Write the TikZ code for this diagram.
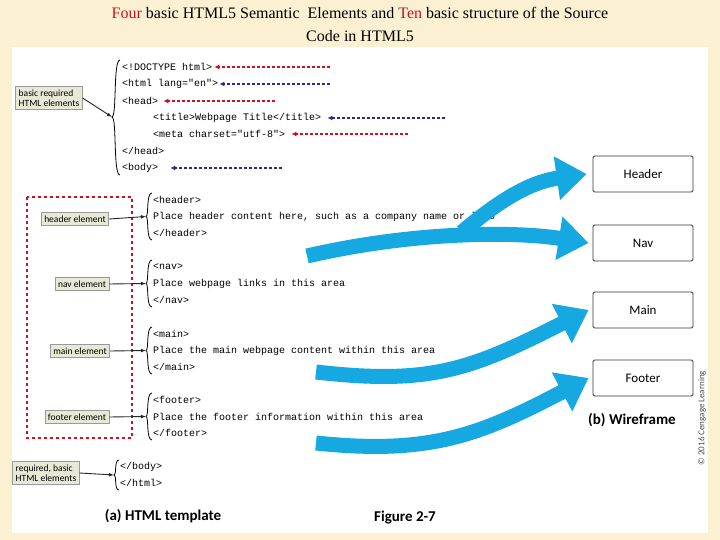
\documentclass[tikz,border=0pt]{standalone}
\usepackage{fontspec}
\setmainfont{Liberation Serif}
\setmonofont{Liberation Mono}
\setsansfont{Carlito}
\usetikzlibrary{arrows.meta}
\definecolor{cream}{HTML}{FBF0D2}
\definecolor{lbl}{HTML}{E8E8D6}
\definecolor{bluea}{HTML}{16A8E0}
\definecolor{darkblue}{HTML}{2B2B8C}
\definecolor{redc}{HTML}{D01020}
\begin{document}
\begin{tikzpicture}[x=1pt,y=-1pt,
 code/.style={font=\ttfamily\fontsize{10}{12}\selectfont,anchor=west,inner sep=0pt},
 lab/.style={draw=gray!80,fill=lbl,font=\sffamily\fontsize{9.5}{10.5}\selectfont,align=left,inner sep=3pt,line width=0.6pt},
 wf/.style={draw=black!80,fill=white,rounded corners=1.5pt,minimum width=100pt,minimum height=36pt,font=\sffamily\fontsize{13}{14}\selectfont,line width=0.8pt},
 dashr/.style={densely dashed,redc,line width=1.2pt,-{Latex[length=5pt,width=5pt]}},
 dashb/.style={densely dashed,darkblue,line width=1.2pt,-{Latex[length=5pt,width=5pt]}},
 pt/.style={-{Latex[length=5pt]},line width=0.9pt,black!85},
 big/.style={bluea,line width=15pt,-{Triangle[length=30pt,width=42pt]}},
 br/.style={line width=0.8pt}]
\useasboundingbox (0,0) rectangle (720,540);
\fill[cream] (0,0) rectangle (720,540);
\fill[white] (12,47) rectangle (708,533);
\node (t1) at (360,13) {\fontsize{16}{18}\selectfont\textcolor{redc}{Four} basic HTML5 Semantic\ \ Elements and \textcolor{redc}{Ten} basic structure of the Source};
\node (t2) at (360,36) {\fontsize{16}{18}\selectfont Code in HTML5};
% head code
\node[code] (c1) at (122,67) {<!DOCTYPE html>};
\node[code] (c2) at (122,84) {<html lang="en">};
\node[code] (c3) at (122,101) {<head>};
\node[code] (c4) at (153,118) {<title>Webpage Title</title>};
\node[code] (c5) at (153,134) {<meta charset="utf-8">};
\node[code] (c6) at (122,151) {</head>};
\node[code] (c7) at (122,168) {<body>};
\coordinate (e1) at (330,67); \coordinate (e2) at (330,84); \coordinate (e3) at (275,101);
\coordinate (e4) at (445,118); \coordinate (e5) at (408,134); \coordinate (e7) at (282,168);
\draw[dashr] (e1) -- ([xshift=2pt]c1.east);
\draw[dashb] (e2) -- ([xshift=1pt]c2.east);
\draw[dashr] (e3) -- ([xshift=5pt]c3.east);
\draw[dashb] (e4) -- ([xshift=6pt]c4.east);
\draw[dashr] (e5) -- ([xshift=6pt]c5.east);
\draw[dashb] (e7) -- ([xshift=12pt]c7.east);
\draw[br] (120,60) .. controls (113,60) and (117,116) .. (112,117) .. controls (117,118) and (113,175) .. (120,175);
\coordinate (b0) at (112,117);
\node[lab] (l0) at (49,98) {basic required\\HTML elements};
\draw[pt] (l0.east) -- (b0);
% red dashed rect
\draw[dashed,redc,line width=1.8pt] (27,197) rectangle (132,438);
% blocks
\foreach \n/\y/\a/\b/\c in {h/200/{<header>}/{Place header content here, such as a company name or logo}/{</header>},
 n/267/{<nav>}/{Place webpage links in this area}/{</nav>},
 m/334/{<main>}/{Place the main webpage content within this area}/{</main>},
 f/400/{<footer>}/{Place the footer information within this area}/{</footer>}}{
 \node[code] (\n1) at (153,\y) {\a};
 \node[code] (\n2) at (153,\y+16.5) {\b};
 \node[code] (\n3) at (153,\y+33) {\c};
 \coordinate (\n b) at (146,\y+16.5);
 \draw[br] (152,\y-7) .. controls (146,\y-7) and (149,\y+16) .. (146,\y+16.5) .. controls (149,\y+17) and (146,\y+40) .. (152,\y+40);
}
\node[lab] (lh) at (75,219) {header element};
\node[lab] (ln) at (82,284) {nav element};
\node[lab] (lm) at (80,351) {main element};
\node[lab] (lf) at (77,417) {footer element};
\draw[pt] (lh.east) -- (hb); \draw[pt] (ln.east) -- (nb);
\draw[pt] (lm.east) -- (mb); \draw[pt] (lf.east) -- (fb);
% closing
\node[code] (z1) at (120,467) {</body>};
\node[code] (z2) at (120,483) {</html>};
\coordinate (zb) at (114,475);
\draw[br] (119,460) .. controls (114,460) and (117,474) .. (114,475) .. controls (117,476) and (114,490) .. (119,490);
\node[lab] (lz) at (46,473) {required, basic\\HTML elements};
\draw[pt] (lz.east) -- (zb);
% wireframe
\node[wf] (W1) at (643,174) {Header};
\node[wf] (W2) at (643,243) {Nav};
\node[wf] (W3) at (643,310) {Main};
\node[wf] (W4) at (643,378) {Footer};
\node[font=\sffamily\bfseries\fontsize{15}{17}\selectfont] (bw) at (632,420) {(b) Wireframe};
\node[font=\sffamily\bfseries\fontsize{15}{17}\selectfont] (aw) at (163,516) {(a) HTML template};
\node[font=\sffamily\bfseries\fontsize{15}{17}\selectfont] (fg) at (405,518) {Figure 2-7};
\node[rotate=90,font=\sffamily\fontsize{9}{10}\selectfont,text=black!70] (cp) at (702,418) {\textcopyright{} 2016 Cengage Learning};
% blue arrows
\coordinate (s1) at (462,232); \coordinate (s2) at (307,256); \coordinate (s3) at (316,372); \coordinate (s4) at (316,443);
\draw[big] (s1) .. controls (500,200) and (530,182) .. ([xshift=-6pt]W1.west);
\draw[big] (s2) .. controls (420,230) and (520,232) .. ([xshift=-4pt]W2.west);
\draw[big] (s3) .. controls (430,385) and (470,370) .. ([xshift=-4pt]W3.west);
\draw[big] (s4) .. controls (430,455) and (480,435) .. ([xshift=-4pt]W4.west);
\end{tikzpicture}
\end{document}
